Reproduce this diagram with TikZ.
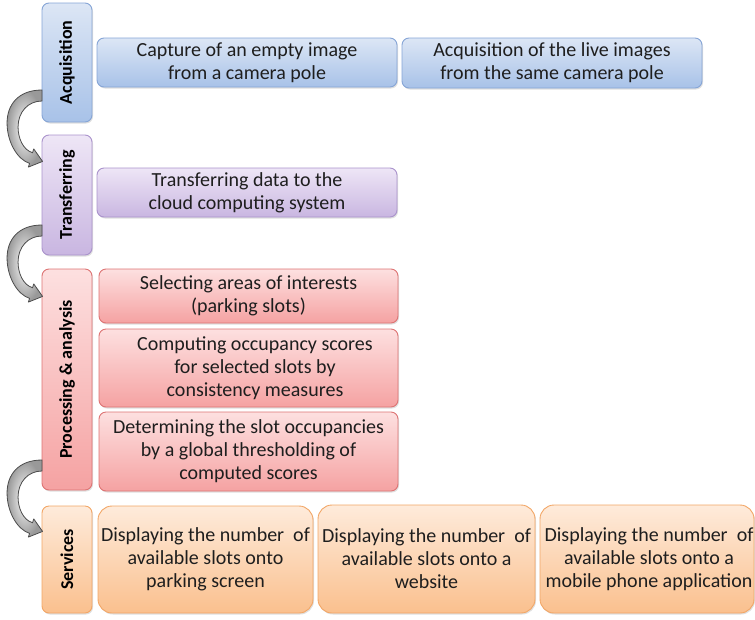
\documentclass[tikz,border=0pt]{standalone}
\usepackage{fontspec}
\setmainfont{Carlito}
\usetikzlibrary{shadows}
\definecolor{bluetop}{HTML}{DCE6F5}
\definecolor{bluebot}{HTML}{A8C2E8}
\definecolor{blueline}{HTML}{86A5D6}
\definecolor{purtop}{HTML}{EEE6F6}
\definecolor{purbot}{HTML}{C9B6E1}
\definecolor{purline}{HTML}{AA93CC}
\definecolor{redtop}{HTML}{FDE0E0}
\definecolor{redbot}{HTML}{F5A2A2}
\definecolor{redline}{HTML}{DD7474}
\definecolor{ortop}{HTML}{FEEBDB}
\definecolor{orbot}{HTML}{FAC08E}
\definecolor{orline}{HTML}{F2A666}
\definecolor{txt}{HTML}{1E1E1E}
\tikzset{
  box/.style={rounded corners=7pt, line width=0.9pt, inner sep=0pt,
    drop shadow={shadow xshift=1pt, shadow yshift=-1.5pt, opacity=0.25},
    text=txt, align=center, font=\fontsize{20}{23}\selectfont},
  bluebox/.style={box, draw=blueline, top color=bluetop, bottom color=bluebot},
  purbox/.style={box, draw=purline, top color=purtop, bottom color=purbot},
  redbox/.style={box, draw=redline, top color=redtop, bottom color=redbot},
  orbox/.style={box, draw=orline, top color=ortop, bottom color=orbot},
  labeltext/.style={rotate=90, text=black, inner sep=0pt, font=\bfseries\fontsize{18}{21}\selectfont},
  curvearrow/.pic={
    \path[draw=black!70, line width=0.8pt, inner color=white, outer color=black!40, line join=round]
      (0,0) .. controls (-24,0) and (-35,-15) .. (-35,-33)
      .. controls (-35,-52) and (-24.5,-69.8) .. (-12.5,-73.3)
      -- (-13.7,-77.1) -- (0.5,-71.4) -- (-8.3,-58.9) -- (-9.5,-62.7)
      .. controls (-19.1,-59.9) and (-24,-48) .. (-24,-37)
      .. controls (-24,-22) and (-14,-11) .. (0,-11) -- cycle;
  }
}
\begin{document}
\begin{tikzpicture}[x=1pt,y=1pt]
\useasboundingbox (0,0) rectangle (755,-619);

% stage labels
\node[bluebox, minimum width=50pt, minimum height=119pt] (acqL) at (67,-62.5) {};
\node[labeltext] (acqT) at (acqL) {Acquisition};
\node[purbox, minimum width=50pt, minimum height=120pt] (trL) at (67,-195) {};
\node[labeltext] (trT) at (trL) {Transferring};
\node[redbox, minimum width=50pt, minimum height=221pt] (prL) at (67,-379.5) {};
\node[labeltext] (prT) at (prL) {Processing \& analysis};
\node[orbox, minimum width=50pt, minimum height=107pt] (svL) at (67,-559.5) {};
\node[labeltext] (svT) at (svL) {Services};

% acquisition items
\node[bluebox, minimum width=300pt, minimum height=49pt] (cap) at (247,-62.5)
  {Capture of an empty image\\from a camera pole};
\node[bluebox, minimum width=300pt, minimum height=50pt] (live) at (552,-63)
  {Acquisition of the live images\\from the same camera pole};

% transferring item
\node[purbox, minimum width=300pt, minimum height=49pt] (trd) at (247,-192.5)
  {Transferring data to the\\cloud computing system};

% processing items
\node[redbox, minimum width=299pt, minimum height=54pt] (sel) at (248.5,-296)
  {Selecting areas of interests\\(parking slots)};
\node[redbox, minimum width=299pt, minimum height=78pt] (comp) at (248.5,-368)
  {\hspace*{13pt}Computing occupancy scores\\\hspace*{13pt}for selected slots by\\\hspace*{13pt}consistency measures};
\node[redbox, minimum width=299pt, minimum height=79pt] (det) at (248.5,-451.5)
  {Determining the slot occupancies\\by a global thresholding of\\computed scores};

% services items
\node[orbox, rounded corners=14pt, minimum width=215pt, minimum height=107pt] (s1) at (205.5,-559.5)
  {Displaying the number\ \ of\\available slots onto\\parking screen};
\node[orbox, rounded corners=14pt, minimum width=217pt, minimum height=108pt] (s2) at (426.5,-559)
  {Displaying the number\ \ of\\available slots onto a\\website};
\node[orbox, rounded corners=14pt, minimum width=214pt, minimum height=108pt] (s3) at (647,-559)
  {\hspace*{4pt}Displaying the number\ \ of\\\hspace*{4pt}available slots onto a\\\hspace*{4pt}mobile phone application};

% curved arrows between stages
\pic at ([xshift=0.5pt]acqL.west |- 0,-90) {curvearrow};
\pic at ([xshift=0.5pt]trL.west |- 0,-225) {curvearrow};
\pic at ([xshift=0.5pt]prL.west |- 0,-460) {curvearrow};
\end{tikzpicture}
\end{document}
